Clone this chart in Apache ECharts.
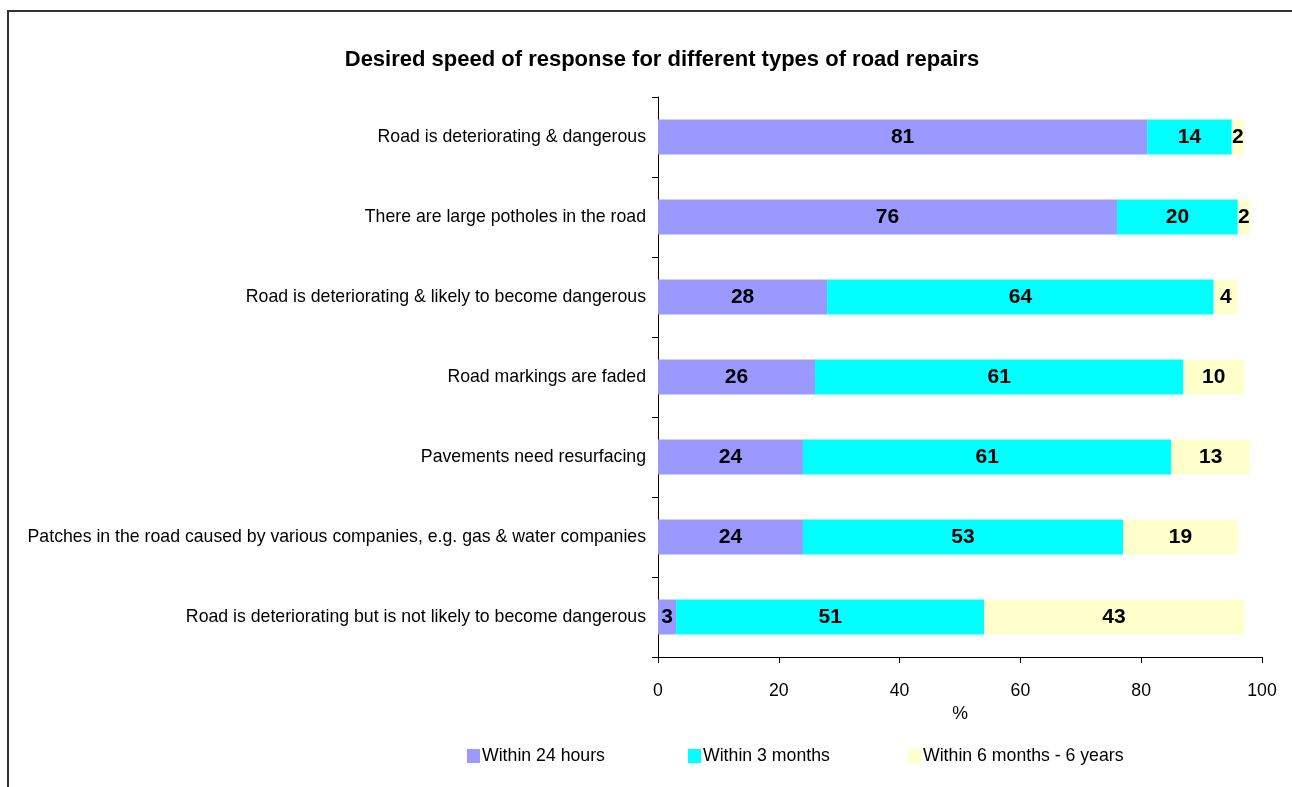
<!DOCTYPE html>
<html>
<head>
<meta charset="utf-8">
<script src="https://cdn.jsdelivr.net/npm/echarts@6/dist/echarts.min.js"></script>
<style>
  html, body { margin: 0; padding: 0; background: #fff; }
  #chart { width: 1292px; height: 787px; }
</style>
</head>
<body>
<div id="chart"></div>
<script>
// Repair types, listed bottom to top as the category axis draws them
const categories = [
  'Road is deteriorating but is not likely to become dangerous',
  'Patches in the road caused by various companies, e.g. gas & water companies',
  'Pavements need resurfacing',
  'Road markings are faded',
  'Road is deteriorating & likely to become dangerous',
  'There are large potholes in the road',
  'Road is deteriorating & dangerous'
];
const seriesNames = ['Within 24 hours', 'Within 3 months', 'Within 6 months - 6 years'];
const within24Hours = [3, 24, 24, 26, 28, 76, 81];
const within3Months = [51, 53, 61, 61, 64, 20, 14];
const within6Months6Years = [43, 19, 13, 10, 4, 2, 2];
const xTicks = [0, 20, 40, 60, 80, 100];

const colors = ['#9999FF', '#00FFFF', '#FFFFCC'];
const values = [within24Hours, within3Months, within6Months6Years];
const legendLeft = [467, 688, 908];
const FONT = '"Liberation Sans", Arial, sans-serif';

const chart = echarts.init(document.getElementById('chart'));
chart.setOption({
  animation: false,
  title: {
    text: 'Desired speed of response for different types of road repairs',
    left: 657, top: 44, textAlign: 'center',
    textStyle: { fontFamily: FONT, fontSize: 22, fontWeight: 'bold', color: '#000' }
  },
  graphic: [{
    type: 'rect',
    shape: { x: 8, y: 11, width: 1300, height: 800 },
    style: { fill: 'none', stroke: '#333', lineWidth: 2 },
    silent: true
  }],
  // one legend per series so each entry sits at its own spot
  legend: seriesNames.map((name, i) => ({
    left: legendLeft[i], top: 747, padding: 0,
    itemWidth: 13, itemHeight: 14,
    icon: 'rect',
    textStyle: { fontFamily: FONT, fontSize: 17.7, color: '#000', padding: [0, 0, 0, -3] },
    data: [name]
  })),
  grid: { left: 658, top: 97, right: 30, bottom: 130 },
  xAxis: {
    type: 'value', min: xTicks[0], max: xTicks[xTicks.length - 1], interval: 20,
    name: '%', nameLocation: 'middle', nameGap: 45,
    nameTextStyle: { fontFamily: FONT, fontSize: 17.7, color: '#000' },
    axisLine: { show: true, lineStyle: { color: '#000', width: 1 } },
    axisTick: { show: true, length: 6, lineStyle: { color: '#000' } },
    axisLabel: { fontFamily: FONT, fontSize: 17.7, color: '#000', margin: 25 },
    splitLine: { show: false }
  },
  yAxis: {
    type: 'category', data: categories,
    axisLine: { show: true, lineStyle: { color: '#000', width: 1 } },
    axisTick: { show: true, length: 6, inside: false, lineStyle: { color: '#000' } },
    axisLabel: { fontFamily: FONT, fontSize: 17.7, color: '#000', margin: 12 }
  },
  series: seriesNames.map((name, i) => ({
    name, type: 'bar', stack: 'total',
    data: values[i],
    barWidth: 35,
    itemStyle: { color: colors[i] },
    label: {
      show: true, position: 'inside',
      fontFamily: FONT, fontSize: 21, fontWeight: 'bold', color: '#000'
    }
  }))
});
</script>
</body>
</html>
